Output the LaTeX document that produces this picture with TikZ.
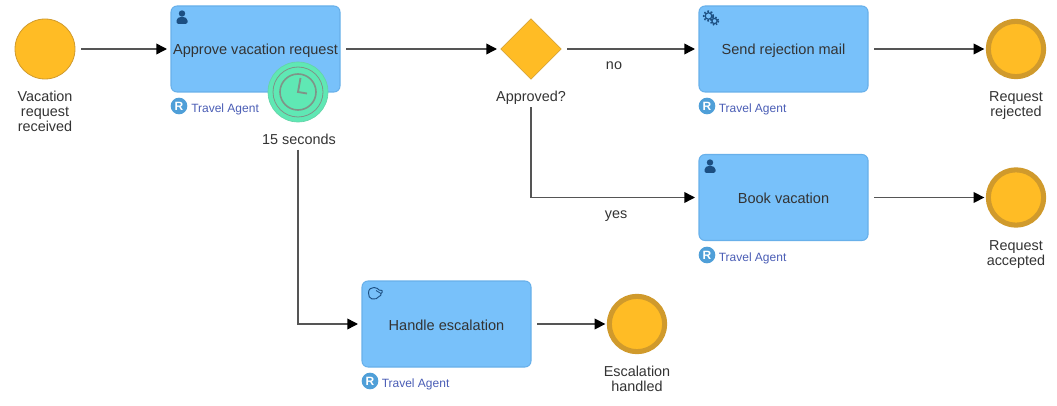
\documentclass[tikz,border=0pt]{standalone}
\usepackage{fontspec}
\setmainfont{Liberation Sans}
\usetikzlibrary{arrows.meta,shapes.geometric}
\definecolor{taskfill}{HTML}{78C1FA}
\definecolor{taskline}{HTML}{68B0EA}
\definecolor{evfill}{HTML}{FFBC25}
\definecolor{evline}{HTML}{D09A2C}
\definecolor{timerfill}{HTML}{5FE8B4}
\definecolor{timerline}{HTML}{7F9488}
\definecolor{flowcol}{HTML}{555555}
\definecolor{txtcol}{HTML}{333333}
\definecolor{rolecol}{HTML}{4A5DB5}
\definecolor{badgecol}{HTML}{4F9FD8}
\definecolor{iconcol}{HTML}{1C4F82}
\tikzset{
  x=0.75pt,y=-0.75pt,
  lbl/.style={font=\fontsize{10.8}{11.25}\selectfont,text=txtcol,align=center,inner sep=0pt},
  taskbox/.style={draw=taskline,fill=taskfill,line width=0.8pt,rounded corners=4.5pt,minimum width=126.75pt,minimum height=64.5pt,outer sep=3pt,inner sep=0pt,text height=11pt,text depth=2pt,font=\fontsize{10.9}{11.25}\selectfont,text=txtcol},
  startev/.style={circle,draw=evline,fill=evfill,line width=0.6pt,minimum size=45pt,inner sep=0pt,outer sep=3pt},
  endev/.style={circle,draw=evline,fill=evfill,line width=3.8pt,minimum size=41.5pt,inner sep=0pt,outer sep=3pt},
  gatebox/.style={diamond,aspect=1,draw=evline,fill=evfill,line width=0.4pt,minimum size=47pt,inner sep=0pt,outer sep=2pt},
  timerev/.style={circle,draw=timerfill!80!gray,fill=timerfill,line width=0.5pt,minimum size=45pt,inner sep=0pt},
  flow/.style={draw=flowcol,line width=1.1pt,shorten <=1.5pt,-{Triangle[length=8pt,width=8pt,color=black]}},
  badge/.style={circle,fill=badgecol,minimum size=12.5pt,inner sep=0pt,text=white,font=\fontsize{9}{9}\selectfont\bfseries},
  rolelbl/.style={font=\fontsize{9}{10}\selectfont,text=rolecol,inner sep=0pt,anchor=west},
  icon/.style={fill=iconcol,draw=none},
}
\begin{document}
\begin{tikzpicture}
\useasboundingbox (0,0) rectangle (1057,406);
% events and tasks
\node[startev] (start) at (45,49) {};
\node[lbl] (startl) at (45,111) {Vacation\\request\\received};
\node[taskbox] (approve) at (255.5,49) {Approve vacation request};
\node[badge] (r1) at (179,106) {R};
\node[rolelbl] (r1t) at (191,109) {Travel Agent};
\node[gatebox] (gate) at (531,49) {};
\node[lbl] (gatel) at (531,97.5) {Approved?};
\node[taskbox] (reject) at (783.5,49) {Send rejection mail};
\node[badge] (r2) at (707,106) {R};
\node[rolelbl] (r2t) at (718.5,109) {Travel Agent};
\node[taskbox] (book) at (783.5,197.5) {Book vacation};
\node[badge] (r3) at (707,255) {R};
\node[rolelbl] (r3t) at (718.5,258) {Travel Agent};
\node[taskbox] (handle) at (446.5,324) {Handle escalation};
\node[badge] (r4) at (370,381) {R};
\node[rolelbl] (r4t) at (381.5,384) {Travel Agent};
\node[endev] (endr) at (1016,49) {};
\node[lbl] (endrl) at (1016,105.5) {Request\\rejected};
\node[endev] (enda) at (1016,197.5) {};
\node[lbl] (endal) at (1016,254.5) {Request\\accepted};
\node[endev] (ende) at (637,324) {};
\node[lbl] (endel) at (637,379) {Escalation\\handled};
% timer
\node[timerev] (timer) at (298,92) {};
\draw[timerline,line width=0.6pt] (timer.center) circle (25);
\draw[timerline,line width=1.2pt] (timer.center) circle (18);
\draw[timerline,line width=1.4pt] (300.5,78) -- (298,92) -- (307,93.5);
\node[lbl] (timerl) at (299,139) {15 seconds};
% connectors
\draw[flow] (start) -- (approve);
\draw[flow] (approve) -- (gate);
\draw[flow] (gate) -- (reject);
\draw[flow] (reject) -- (endr);
\draw[flow] (book) -- (enda);
\draw[flow] (handle) -- (ende);
\draw[flow] (gatel.south) ++(0,1) -- (531,197.5) -- (book.west);
\draw[flow] (timerl.south) ++(-1,3) -- (298,324) -- (handle.west);
\node[lbl] (nol) at (614,66) {no};
\node[lbl] (yesl) at (616,216) {yes};
% user icons
\foreach \cx/\cy in {182/18,710/167}{
  \fill[icon] (\cx,\cy-4.5) circle (3.2);
  \fill[icon,rounded corners=1.2pt] (\cx-5.5,\cy+6) -- (\cx-5.5,\cy+1) -- (\cx-2,\cy-1.2) -- (\cx+2,\cy-1.2) -- (\cx+5.5,\cy+1) -- (\cx+5.5,\cy+6) -- cycle;
}
% service icon
\draw[iconcol,line width=0.9pt] (708.5,16) circle (3.3);
\draw[iconcol,line width=1.3pt,dash pattern=on 1.2pt off 1.4pt] (708.5,16) circle (4.8);
\draw[iconcol,line width=0.9pt,fill=taskfill] (714.5,21) circle (2.6);
\draw[iconcol,line width=1.2pt,dash pattern=on 1.1pt off 1.3pt] (714.5,21) circle (4);
% manual icon
\draw[iconcol,line width=0.7pt,line join=round] (368.5,293) .. controls (368.5,289) and (371,287.5) .. (374,287.5) .. controls (377,287.5) and (378,289) .. (379,290) -- (382,290.5) .. controls (383,291.5) and (382,293) .. (381,293.5) .. controls (382,295) and (380,296) .. (379,296.5) .. controls (378,298.5) and (375,299.5) .. (372,299) .. controls (369.5,298.5) and (368.5,296) .. (368.5,293) -- cycle;
\draw[iconcol,line width=0.6pt] (376,290.5) -- (381,293.5);
\end{tikzpicture}
\end{document}
